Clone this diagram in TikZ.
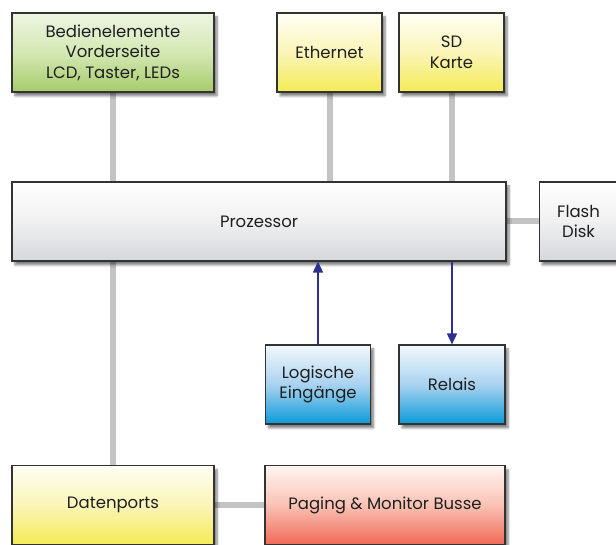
\documentclass[tikz,border=0pt]{standalone}
\usepackage{fontspec}
\setmainfont{Poppins}
\usetikzlibrary{shadows.blur,arrows.meta,backgrounds}
\definecolor{edge}{HTML}{333333}
\definecolor{bus}{HTML}{C4C4C4}
\definecolor{arrowc}{HTML}{2E3192}
\definecolor{gA}{HTML}{EEF5E3}\definecolor{gB}{HTML}{A6CB6A}\definecolor{gM}{HTML}{D4E8B4}
\definecolor{yA}{HTML}{FFFFF4}\definecolor{yB}{HTML}{F4EB55}\definecolor{yM}{HTML}{FAF5B8}
\definecolor{kB}{HTML}{D6D7DA}\definecolor{kM}{HTML}{F0F0F1}
\definecolor{bA}{HTML}{F3F8FD}\definecolor{bB}{HTML}{0A9BD9}\definecolor{bM}{HTML}{A9D2F0}
\definecolor{rA}{HTML}{FFF5F2}\definecolor{rB}{HTML}{F06A58}\definecolor{rM}{HTML}{F9C2B4}
\tikzset{
  x=1pt,y=1pt,
  box/.style={draw=edge, line width=1.1pt, minimum height=79pt, align=center,
    font=\fontsize{16.5}{20.5}\selectfont, text=black!88,
    blur shadow={shadow xshift=3pt, shadow yshift=-4pt, shadow blur steps=6, shadow opacity=50}},
  greenbox/.style={box, top color=gA, bottom color=gB, middle color=gM},
  yellowbox/.style={box, top color=yA, bottom color=yB, middle color=yM},
  graybox/.style={box, top color=white, bottom color=kB, middle color=kM},
  bluebox/.style={box, top color=bA, bottom color=bB, middle color=bM},
  redbox/.style={box, top color=rA, bottom color=rB, middle color=rM},
  busline/.style={draw=bus, line width=6pt},
  sig/.style={draw=arrowc, line width=1.5pt, -{Triangle[length=11pt,width=10pt]}},
}
\begin{document}
\begin{tikzpicture}
\useasboundingbox (0,0) rectangle (616,544);
\clip (0,0) rectangle (616,544);
% nodes (y = 544 - pixel y)
\node[greenbox, minimum width=202pt] (bed) at (113,491.5) {Bedienelemente\\Vorderseite\\LCD, Taster, LEDs};
\node[yellowbox, minimum width=105pt] (eth) at (329.5,491.5) {Ethernet};
\node[yellowbox, minimum width=105pt] (sd) at (451.5,491.5) {SD\\Karte};
\node[graybox, minimum width=494pt] (proz) at (259,322.5) {Prozessor};
\node[graybox, minimum width=105pt, anchor=west] (flash) at (538.5,322.5) {\hspace*{-26pt}Flash\\\hspace*{-26pt}Disk};
\node[bluebox, minimum width=105pt] (log) at (318,159.5) {Logische\\Eingänge};
\node[bluebox, minimum width=106pt] (rel) at (452,159.5) {Relais};
\node[yellowbox, minimum width=202pt] (dat) at (113,39) {Datenports};
\node[redbox, minimum width=240pt] (pag) at (385,39) {Paging \& Monitor Busse};
% bus connectors
\begin{scope}[on background layer]
\draw[busline] (bed.south) -- (proz.north -| bed.south);
\draw[busline] (eth.south) -- (proz.north -| eth.south);
\draw[busline] (sd.south) -- (proz.north -| sd.south);
\draw[busline] (proz.east) -- (flash.west);
\draw[busline] (proz.south -| dat.north) -- (dat.north);
\draw[busline] (dat.east) -- (pag.west);
\end{scope}
% signal arrows
\draw[sig] (log.north) -- (proz.south -| log.north);
\draw[sig] (proz.south -| rel.north) -- (rel.north);
\end{tikzpicture}
\end{document}
